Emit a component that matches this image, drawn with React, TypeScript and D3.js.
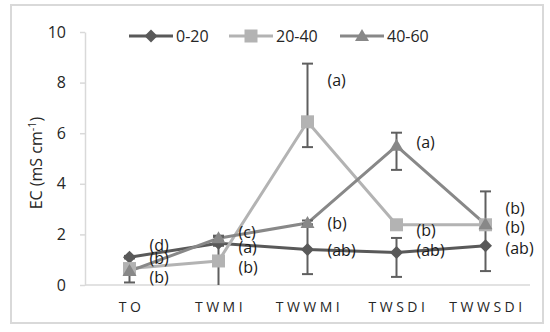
import React, { useEffect, useRef } from 'react';
import * as d3 from 'd3';

const categories = ['TO', 'TWMI', 'TWWMI', 'TWSDI', 'TWWSDI'];
const yTicks = [0, 2, 4, 6, 8, 10];
const seriesNames = ['0-20', '20-40', '40-60'];

const ec0020 = [1.1, 1.65, 1.4, 1.28, 1.55];
const ec2040 = [0.65, 0.95, 6.45, 2.38, 2.38];
const ec4060 = [0.55, 1.85, 2.45, 5.5, 2.4];

const plus0020 = [0.05, 0.1, 1.0, 0.58, 1.0];
const minus0020 = [0.05, 0.1, 0.97, 0.96, 1.0];
const plus2040 = [0.1, 0.95, 2.3, 0.1, 0.1];
const minus2040 = [0.55, 0.95, 1.0, 0.1, 0.1];
const plus4060 = [0.1, 0.1, 0.1, 0.52, 1.3];
const minus4060 = [0.1, 0.1, 0.1, 0.95, 0.1];

const letters0020 = ['(d)', '(a)', '(ab)', '(ab)', '(ab)'];
const letters2040 = ['(b)', '(b)', '(a)', '(b)', '(b)'];
const letters4060 = ['(b)', '(c)', '(b)', '(a)', '(b)'];
// label centre heights, in EC units
const letterAt0020 = [1.58, 1.5, 1.38, 1.38, 1.46];
const letterAt2040 = [0.32, 0.71, 8.1, 2.17, 3.04];
const letterAt4060 = [1.07, 2.06, 2.45, 5.65, 2.29];

const series = [
  { name: seriesNames[0], values: ec0020, plus: plus0020, minus: minus0020, letters: letters0020, letterAt: letterAt0020, color: '#595959', marker: 'diamond' },
  { name: seriesNames[1], values: ec2040, plus: plus2040, minus: minus2040, letters: letters2040, letterAt: letterAt2040, color: '#b3b3b3', marker: 'square' },
  { name: seriesNames[2], values: ec4060, plus: plus4060, minus: minus4060, letters: letters4060, letterAt: letterAt4060, color: '#888888', marker: 'triangle' },
];

const markerPath = (kind: string, cx: number, cy: number) => {
  if (kind === 'diamond') {
    return `M${cx},${cy - 6.5}L${cx + 6.5},${cy}L${cx},${cy + 6.5}L${cx - 6.5},${cy}Z`;
  }
  if (kind === 'square') {
    return `M${cx - 6.5},${cy - 6.5}h13v13h-13Z`;
  }
  return `M${cx},${cy - 7}L${cx + 7},${cy + 5}L${cx - 7},${cy + 5}Z`;
};

export default function App() {
  const ref = useRef<SVGSVGElement>(null);

  useEffect(() => {
    const svg = d3.select(ref.current);
    svg.selectAll('*').remove();

    const font = "'Open Sans', sans-serif";

    const x = d3.scaleBand().domain(categories).range([85, 530]);
    const cx = (c: string) => (x(c) as number) + x.bandwidth() / 2;
    const y = d3.scaleLinear().domain([0, 10]).range([285, 32]);

    // outer frame
    svg.append('rect')
      .attr('x', 11).attr('y', 5).attr('width', 532).attr('height', 318)
      .attr('fill', 'white').attr('stroke', '#d9d9d9').attr('stroke-width', 2);

    // y axis
    const yAxis = svg.append('g')
      .attr('transform', 'translate(85,0)')
      .call(d3.axisLeft(y).tickValues(yTicks).tickSize(5).tickPadding(14).tickSizeOuter(0));
    yAxis.select('.domain').attr('stroke', '#d9d9d9').attr('stroke-width', 1.5);
    yAxis.selectAll('.tick line').attr('stroke', '#d9d9d9').attr('stroke-width', 1.5);
    yAxis.selectAll('.tick text')
      .attr('font-family', font).attr('font-size', 16).attr('fill', '#262626');

    // x axis
    svg.append('line')
      .attr('x1', 85).attr('x2', 530).attr('y1', y(0)).attr('y2', y(0))
      .attr('stroke', '#d9d9d9').attr('stroke-width', 1.5);

    svg.selectAll('.xlabel')
      .data(categories)
      .enter()
      .append('text')
      .attr('class', 'xlabel')
      .attr('x', d => cx(d) + 2)
      .attr('y', 312)
      .attr('text-anchor', 'middle')
      .attr('font-family', font)
      .attr('font-size', 14)
      .attr('letter-spacing', 3.5)
      .attr('fill', '#262626')
      .text(d => d);

    // y title
    const title = svg.append('text')
      .attr('transform', 'translate(42,163) rotate(-90)')
      .attr('text-anchor', 'middle')
      .attr('font-family', font)
      .attr('font-size', 16)
      .attr('fill', '#262626');
    title.append('tspan').text('EC (mS cm');
    title.append('tspan').attr('dy', -6).attr('font-size', 11).text('-1');
    title.append('tspan').attr('dy', 6).text(')');

    const line = d3.line<number>()
      .x((_, i) => cx(categories[i]))
      .y(d => y(d));

    series.forEach(s => {
      svg.append('path')
        .datum(s.values)
        .attr('d', line)
        .attr('fill', 'none')
        .attr('stroke', s.color)
        .attr('stroke-width', 3)
        .attr('stroke-linejoin', 'round');
    });

    // error bars
    series.forEach(s => {
      s.values.forEach((v, i) => {
        const px = cx(categories[i]);
        const top = y(v + s.plus[i]);
        const bot = y(Math.max(0, v - s.minus[i]));
        const g = svg.append('g').attr('stroke', '#5f5f5f').attr('stroke-width', 2);
        g.append('line').attr('x1', px).attr('x2', px).attr('y1', top).attr('y2', bot);
        g.append('line').attr('x1', px - 5.5).attr('x2', px + 5.5).attr('y1', top).attr('y2', top);
        if (v - s.minus[i] > 0.02) {
          g.append('line').attr('x1', px - 5.5).attr('x2', px + 5.5).attr('y1', bot).attr('y2', bot);
        }
      });
    });

    // markers
    series.forEach(s => {
      svg.selectAll(null)
        .data(s.values)
        .enter()
        .append('path')
        .attr('d', (d, i) => markerPath(s.marker, cx(categories[i]), y(d)))
        .attr('fill', s.color);
    });

    // significance letters
    series.forEach(s => {
      svg.selectAll(null)
        .data(s.letters)
        .enter()
        .append('text')
        .attr('x', (_, i) => cx(categories[i]) + 20)
        .attr('y', (_, i) => y(s.letterAt[i]))
        .attr('dy', '0.35em')
        .attr('font-family', font)
        .attr('font-size', 16)
        .attr('fill', '#1a1a1a')
        .text(d => d);
    });

    // legend
    const legendX = [129, 229, 340];
    series.forEach((s, i) => {
      const lx = legendX[i];
      const g = svg.append('g');
      g.append('line')
        .attr('x1', lx).attr('x2', lx + 44).attr('y1', 36).attr('y2', 36)
        .attr('stroke', s.color).attr('stroke-width', 3);
      g.append('path').attr('d', markerPath(s.marker, lx + 22, 36)).attr('fill', s.color);
      g.append('text')
        .attr('x', lx + 47).attr('y', 36).attr('dy', '0.35em')
        .attr('font-family', font).attr('font-size', 16).attr('fill', '#262626')
        .text(s.name);
    });
  }, []);

  return (
    <svg ref={ref} width={550} height={332} style={{ display: 'block', position: 'absolute', left: 0, top: 0 }} />
  );
}
